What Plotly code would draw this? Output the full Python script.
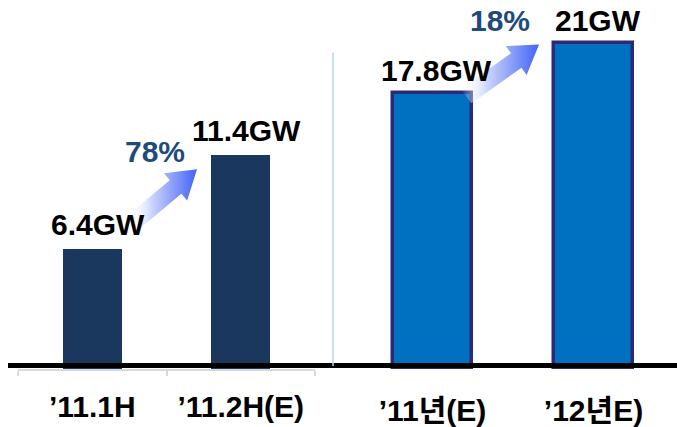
import math
import plotly.graph_objects as go

# ---- data ----
half_cats = ["’11.1H", "’11.2H(E)"]
half_vals = [6.4, 11.4]
half_labels = ["6.4GW", "11.4GW"]

year_cats = ["’11년(E)", "’12년E)"]
year_vals = [17.8, 21]
year_labels = ["17.8GW", "21GW"]

growth_labels = ["78%", "18%"]

W, H = 677, 427
B = 54                      # bottom margin -> plot bottom at pixel 373
PH = H - B

FONT = "Liberation Sans, Arial, Noto Sans CJK KR, sans-serif"
NAVY = "#1A375E"
BLUE = "#0070C0"
BORDER = "#2B2A78"
PCT = "#1F4A7C"

fig = go.Figure()

fig.add_trace(go.Bar(x=half_cats, y=half_vals, xaxis="x", yaxis="y",
                     marker=dict(color=NAVY, line=dict(width=0)),
                     width=0.40, showlegend=False, hoverinfo="skip"))
fig.add_trace(go.Bar(x=year_cats, y=year_vals, xaxis="x2", yaxis="y2",
                     marker=dict(color=BLUE, line=dict(color=BORDER, width=3.5)),
                     width=0.49, showlegend=False, hoverinfo="skip"))

# value labels above bars
for c, v, t in zip(half_cats, half_vals, half_labels):
    fig.add_annotation(x=c, y=v, xref="x", yref="y", text=t, showarrow=False,
                       yanchor="middle", yshift=25, xshift=6,
                       font=dict(family=FONT, size=30, color="#000000", weight="bold"))
for c, v, t in zip(year_cats, year_vals, year_labels):
    fig.add_annotation(x=c, y=v, xref="x2", yref="y2", text=t, showarrow=False,
                       yanchor="middle", yshift=23, xshift=4,
                       font=dict(family=FONT, size=30, color="#000000", weight="bold"))


# decorative gradient arrows (pixel overlay axes)
def arrow(tail, tip, sw=9, hw=18, hl=28):
    x0, y0 = tail
    x1, y1 = tip
    L = math.hypot(x1 - x0, y1 - y0)
    ux, uy = (x1 - x0) / L, (y1 - y0) / L
    nx, ny = -uy, ux
    nkx, nky = x1 - ux * hl, y1 - uy * hl
    pts = [
        (x0 + nx * sw, y0 + ny * sw),
        (nkx + nx * sw, nky + ny * sw),
        (nkx + nx * hw, nky + ny * hw),
        (x1, y1),
        (nkx - nx * hw, nky - ny * hw),
        (nkx - nx * sw, nky - ny * sw),
        (x0 - nx * sw, y0 - ny * sw),
        (x0 + nx * sw, y0 + ny * sw),
    ]
    return [p[0] for p in pts], [p[1] for p in pts]


arrows = [((134, 224), (197, 171)), ((466, 97), (539, 45))]
pct_pos = [(155, 153), (500, 21)]
for (tail, tip), lab, (px, py) in zip(arrows, growth_labels, pct_pos):
    ax_, ay_ = arrow(tail, tip)
    fig.add_trace(go.Scatter(x=ax_, y=ay_, xaxis="x3", yaxis="y3", mode="lines",
                             fill="toself", line=dict(width=0, color="rgba(0,0,0,0)"),
                             fillgradient=dict(type="horizontal",
                                               colorscale=[[0, "rgba(255,255,255,0)"],
                                                           [0.35, "#C9D3FC"],
                                                           [1, "#4262F6"]]),
                             showlegend=False, hoverinfo="skip"))
    fig.add_annotation(x=px, y=py, xref="x3", yref="y3", text=lab, showarrow=False,
                       xanchor="center", yanchor="middle",
                       font=dict(family=FONT, size=30, color=PCT, weight="bold"))

# baseline and divider
fig.add_shape(type="line", xref="paper", yref="paper", x0=8 / W, x1=1,
              y0=3.5 / PH, y1=3.5 / PH, line=dict(color="#000000", width=5))
fig.add_shape(type="line", xref="paper", yref="paper", x0=333 / W, x1=333 / W,
              y0=3 / PH, y1=(PH - 53) / PH, line=dict(color="#B5DDE2", width=1.5))

tickfont = dict(family=FONT, size=30, color="#000000", weight="bold")
fig.update_layout(
    width=W, height=H,
    margin=dict(l=0, r=0, t=0, b=B),
    paper_bgcolor="white", plot_bgcolor="rgba(0,0,0,0)",
    bargap=0,
    xaxis=dict(domain=[18 / W, 315 / W], type="category", range=[-0.5, 1.5],
               showline=True, linecolor="#D9D9D9", linewidth=1.5,
               ticks="outside", tickson="boundaries", ticklen=5, tickcolor="#D9D9D9",
               tickwidth=1.5, showgrid=False, zeroline=False, tickfont=tickfont,
               ticklabelstandoff=10, fixedrange=True),
    xaxis2=dict(domain=[352 / W, 674 / W], type="category", range=[-0.5, 1.5],
                anchor="y2", showline=False, ticks="outside", ticklen=5,
                tickcolor="rgba(0,0,0,0)", showgrid=False, zeroline=False,
                tickfont=tickfont, ticklabelstandoff=10, fixedrange=True),
    yaxis=dict(range=[0, 19.7], visible=False, fixedrange=True),
    yaxis2=dict(range=[0, 23.8], visible=False, anchor="x2", fixedrange=True),
    xaxis3=dict(domain=[0, 1], range=[0, W], visible=False,
                anchor="y3", fixedrange=True),
    yaxis3=dict(domain=[0, 1], range=[PH, 0], visible=False,
                anchor="x3", fixedrange=True),
)

fig.write_html("out.html")
